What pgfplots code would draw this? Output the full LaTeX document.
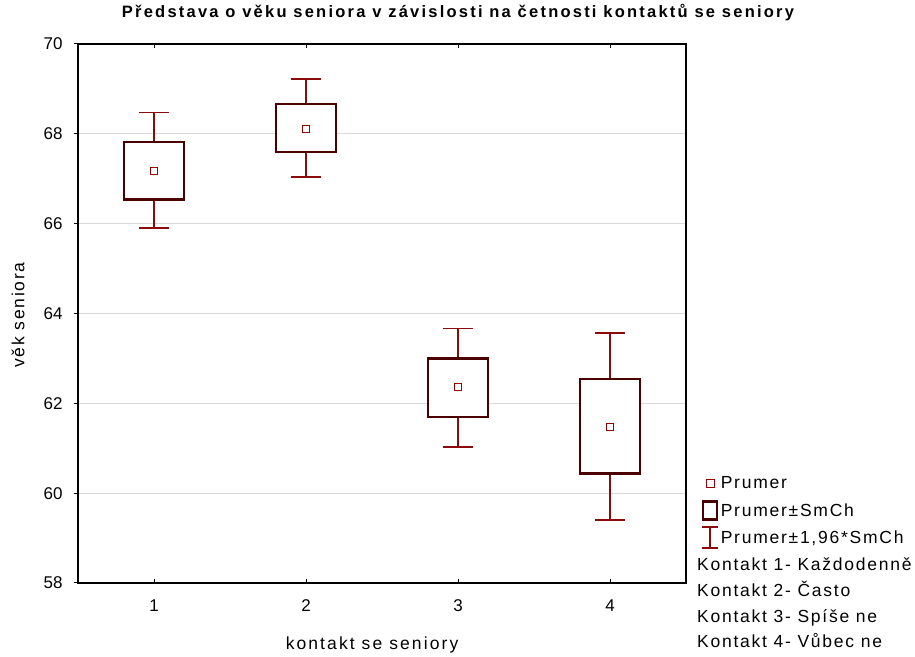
\documentclass[border=0pt]{standalone}
\usepackage{fontspec}
\setmainfont{Liberation Sans}
\newfontfamily\spaced{Liberation Sans}[LetterSpace=10]
\usepackage{pgfplots}
\pgfplotsset{compat=1.18}
\usetikzlibrary{calc}
\definecolor{boxc}{RGB}{74,0,0}
\definecolor{whc}{RGB}{139,10,10}
\definecolor{meanc}{RGB}{150,0,0}
\definecolor{gridc}{RGB}{218,218,218}
\newcommand{\tf}{\fontsize{17}{20}\selectfont}
\newcommand{\lf}{\spaced\fontsize{17.5}{20}\selectfont}
\begin{document}
\begin{tikzpicture}
\begin{axis}[
  name=ax,
  scale only axis,
  width=608pt, height=539pt,
  xmin=0.5, xmax=4.5, ymin=58, ymax=70,
  xtick={1,2,3,4}, ytick={58,60,...,70},
  xtick pos=both, xtick align=inside,
  ytick pos=left, ytick align=outside,
  major tick length=4pt,
  tick style={black, line width=1pt},
  axis line style={black, line width=1.6pt},
  ymajorgrids, grid style={gridc, line width=0.9pt},
  /pgf/number format/assume math mode=true,
  ticklabel style={font=\tf},
  xticklabel style={yshift=-13pt},
  yticklabel style={xshift=-8pt},
  title={Představa o věku seniora v závislosti na četnosti kontaktů se seniory},
  title style={font={\spaced\addfontfeature{LetterSpace=13.5}\fontsize{16.5}{19}\selectfont\bfseries}, at={(axis description cs:0.625,1.0464)}, anchor=center},
  xlabel={kontakt se seniory},
  xlabel style={font={\lf\addfontfeature{LetterSpace=12}}, at={(axis description cs:0.4836,-0.115)}, anchor=center},
  ylabel={věk seniora},
  ylabel style={font=\lf, at={(axis description cs:-0.0987,0.497)}, anchor=center},
  clip=false,
  legend style={draw=none, fill=none, font=\lf, at={(axis description cs:1.025,0.207)}, anchor=north west, inner sep=0pt, row sep=3pt},
  legend cell align=left,
]
% whiskers: mean +- 1.96*SE
\addplot[draw=none, mark=none, forget plot,
  error bars/.cd, y dir=both, y explicit,
  error bar style={whc, line width=1.4pt},
  error mark options={whc, line width=1.4pt, mark size=15pt, rotate=90}]
  coordinates {(1,67.185) +- (0,1.285) (2,68.13) +- (0,1.09) (3,62.345) +- (0,1.315) (4,61.485) +- (0,2.085)};
% boxes: mean +- SE
\addplot[draw=boxc, line width=2.3pt, fill=white, forget plot] coordinates {(0.8025,66.54) (1.1975,66.54) (1.1975,67.825) (0.8025,67.825)} -- cycle;
\addplot[draw=boxc, line width=2.3pt, fill=white, forget plot] coordinates {(1.8025,67.59) (2.1975,67.59) (2.1975,68.66) (1.8025,68.66)} -- cycle;
\addplot[draw=boxc, line width=2.3pt, fill=white, forget plot] coordinates {(2.8025,61.69) (3.1975,61.69) (3.1975,63.00) (2.8025,63.00)} -- cycle;
\addplot[draw=boxc, line width=2.3pt, fill=white, forget plot] coordinates {(3.8025,60.44) (4.1975,60.44) (4.1975,62.54) (3.8025,62.54)} -- cycle;
% means
\addplot[only marks, mark=square*, mark size=3.5pt, mark options={draw=meanc, fill=white, line width=1.2pt},
  legend image code/.code={\path[draw=none, fill=none] (0pt,-12pt) rectangle (16pt,12pt); \draw[meanc, fill=white, line width=1.2pt] (4pt,-4pt) rectangle (12pt,4pt);}]
  coordinates {(1,67.18) (2,68.11) (3,62.36) (4,61.47)};
\addlegendentry{Prumer}
\addlegendimage{legend image code/.code={\path[draw=none, fill=none] (0pt,-12pt) rectangle (16pt,12pt); \draw[boxc, fill=white, line width=2.3pt] (1pt,-9pt) rectangle (15pt,9pt);}}
\addlegendentry{Prumer±SmCh}
\addlegendimage{legend image code/.code={\path[draw=none, fill=none] (0pt,-12pt) rectangle (16pt,12pt); \draw[whc, line width=1.4pt] (0pt,-10.5pt) -- (16pt,-10.5pt) (8pt,-10.5pt) -- (8pt,10.5pt) (0pt,10.5pt) -- (16pt,10.5pt);}}
\addlegendentry{Prumer±1,96*SmCh}
\end{axis}
\node[font=\lf, anchor=base west, inner sep=0pt] at ($(ax.north west)+(619pt,-527pt)$) {Kontakt 1- Každodenně};
\node[font=\lf, anchor=base west, inner sep=0pt] at ($(ax.north west)+(619pt,-553pt)$) {Kontakt 2- Často};
\node[font=\lf, anchor=base west, inner sep=0pt] at ($(ax.north west)+(619pt,-578.5pt)$) {Kontakt 3- Spíše ne};
\node[font=\lf, anchor=base west, inner sep=0pt] at ($(ax.north west)+(619pt,-604pt)$) {Kontakt 4- Vůbec ne};
\path (ax.north west) ++(-78pt,44pt) rectangle ++(915pt,-655pt);
\end{tikzpicture}
\end{document}
